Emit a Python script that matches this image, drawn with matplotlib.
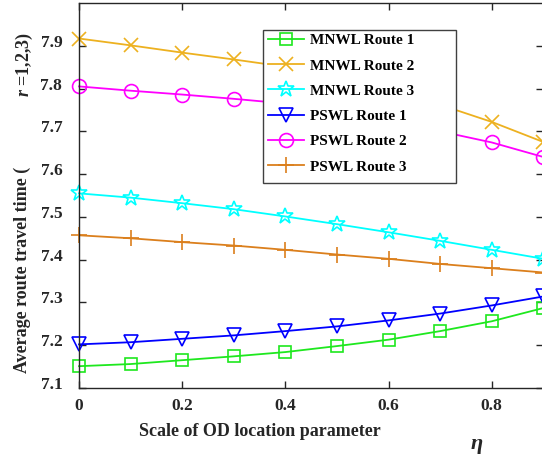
import matplotlib
matplotlib.use("Agg")
import matplotlib.pyplot as plt
import matplotlib.transforms as mtransforms
from matplotlib.patches import Rectangle

plt.rcParams['font.family'] = ['Liberation Serif', 'DejaVu Serif']
plt.rcParams['font.weight'] = 'bold'
plt.rcParams['mathtext.fontset'] = 'custom'
plt.rcParams['mathtext.rm'] = 'Liberation Serif:bold'
plt.rcParams['mathtext.it'] = 'Liberation Serif:italic:bold'
plt.rcParams['mathtext.bf'] = 'Liberation Serif:bold'

# ---- data ----
eta = [0.0, 0.1, 0.2, 0.3, 0.4, 0.5, 0.6, 0.7, 0.8, 0.9]
mnwl_route1 = [7.151, 7.156, 7.165, 7.174, 7.184, 7.198, 7.213, 7.233, 7.256, 7.287]
mnwl_route2 = [7.917, 7.901, 7.884, 7.868, 7.851, 7.830, 7.800, 7.762, 7.722, 7.675]
mnwl_route3 = [7.555, 7.545, 7.532, 7.518, 7.501, 7.483, 7.464, 7.444, 7.423, 7.402]
pswl_route1 = [7.202, 7.207, 7.215, 7.223, 7.233, 7.244, 7.258, 7.274, 7.293, 7.314]
pswl_route2 = [7.805, 7.795, 7.786, 7.776, 7.765, 7.750, 7.730, 7.700, 7.674, 7.640]
pswl_route3 = [7.457, 7.450, 7.441, 7.433, 7.423, 7.412, 7.402, 7.390, 7.380, 7.370]
labels = ["MNWL Route 1", "MNWL Route 2", "MNWL Route 3",
          "PSWL Route 1", "PSWL Route 2", "PSWL Route 3"]
xticks = [0, 0.2, 0.4, 0.6, 0.8]
xticklabels = ["0", "0.2", "0.4", "0.6", "0.8"]
yticks = [7.1, 7.2, 7.3, 7.4, 7.5, 7.6, 7.7, 7.8, 7.9]

series = [mnwl_route1, mnwl_route2, mnwl_route3, pswl_route1, pswl_route2, pswl_route3]
colors = ['#1EE81E', '#EDB120', '#00FFFF', '#0000FF', '#FF00FF', '#DB7F1C']
markers = ['s', 'x', '*', 'v', 'o', '+']
msizes = [8, 10, 12, 10, 10, 12]

W, H = 542, 458
fig = plt.figure(figsize=(W / 100, H / 100), dpi=100)
left, right, top, bottom = 79, 543.4, 3, 388
ax = fig.add_axes([left / W, (H - bottom) / H, (right - left) / W, (bottom - top) / H])

for ys, c, m, ms, lab in zip(series, colors, markers, msizes, labels):
    ax.plot(eta, ys, color=c, marker=m, markersize=ms, markerfacecolor='none',
            markeredgecolor=c, markeredgewidth=1.2, linewidth=1.3, label=lab,
            clip_on=False)

ax.set_xlim(0, 0.9)
ax.set_ylim(7.1, 8.0)
ax.set_xticks(xticks)
ax.set_xticklabels(xticklabels)
ax.set_yticks(yticks)
ax.set_yticklabels([f"{v:.1f}" for v in yticks])

axc = '#262626'
for s in ax.spines.values():
    s.set_color(axc)
    s.set_linewidth(1.0)
ax.tick_params(direction='in', length=5, width=1.0, color=axc, labelcolor=axc,
               top=True, right=True, labelsize=12.5)
ax.tick_params(axis='y', pad=12)
ax.tick_params(axis='x', pad=7)
for lbl in ax.get_yticklabels():
    lbl.set_fontweight('bold')
    lbl.set_transform(lbl.get_transform() + mtransforms.ScaledTranslation(0, 5 / 100, fig.dpi_scale_trans))
for lbl in ax.get_xticklabels():
    lbl.set_fontweight('bold')

# legend frame drawn separately (MATLAB-style wide box)
lx0, ly0, lx1, ly1 = 263, 30, 456, 183
ax.add_patch(Rectangle((lx0 / W, (H - ly1) / H), (lx1 - lx0) / W, (ly1 - ly0) / H,
                       transform=fig.transFigure, facecolor='white', edgecolor='#404040',
                       linewidth=1.0, zorder=4, clip_on=False))
leg = ax.legend(loc='upper left',
                bbox_to_anchor=(267.5 / W, (H - 33.5) / H), bbox_transform=fig.transFigure,
                borderaxespad=0, frameon=False,
                prop={'family': 'Liberation Serif', 'weight': 'bold', 'size': 11},
                handlelength=2.4, handletextpad=0.35, labelspacing=0.76, borderpad=0)
leg.set_zorder(6)

fig.text(260 / W, (H - 432) / H, "Scale of OD location parameter", ha='center', va='center',
         fontsize=13, fontweight='bold', color=axc)
fig.text(477 / W, (H - 444) / H, "η", ha='center', va='center', fontsize=16,
         fontweight='bold', fontstyle='italic', color=axc)
fig.text(22.5 / W, (H - 270) / H, "Average route travel time (", ha='center', va='center',
         rotation=90, fontsize=13, fontweight='bold', color=axc)
fig.text(24.5 / W, (H - 64) / H, "$r$ =1,2,3)", ha='center', va='center',
         rotation=90, fontsize=13, fontweight='bold', color=axc)

fig.savefig("out.png", dpi=100)
